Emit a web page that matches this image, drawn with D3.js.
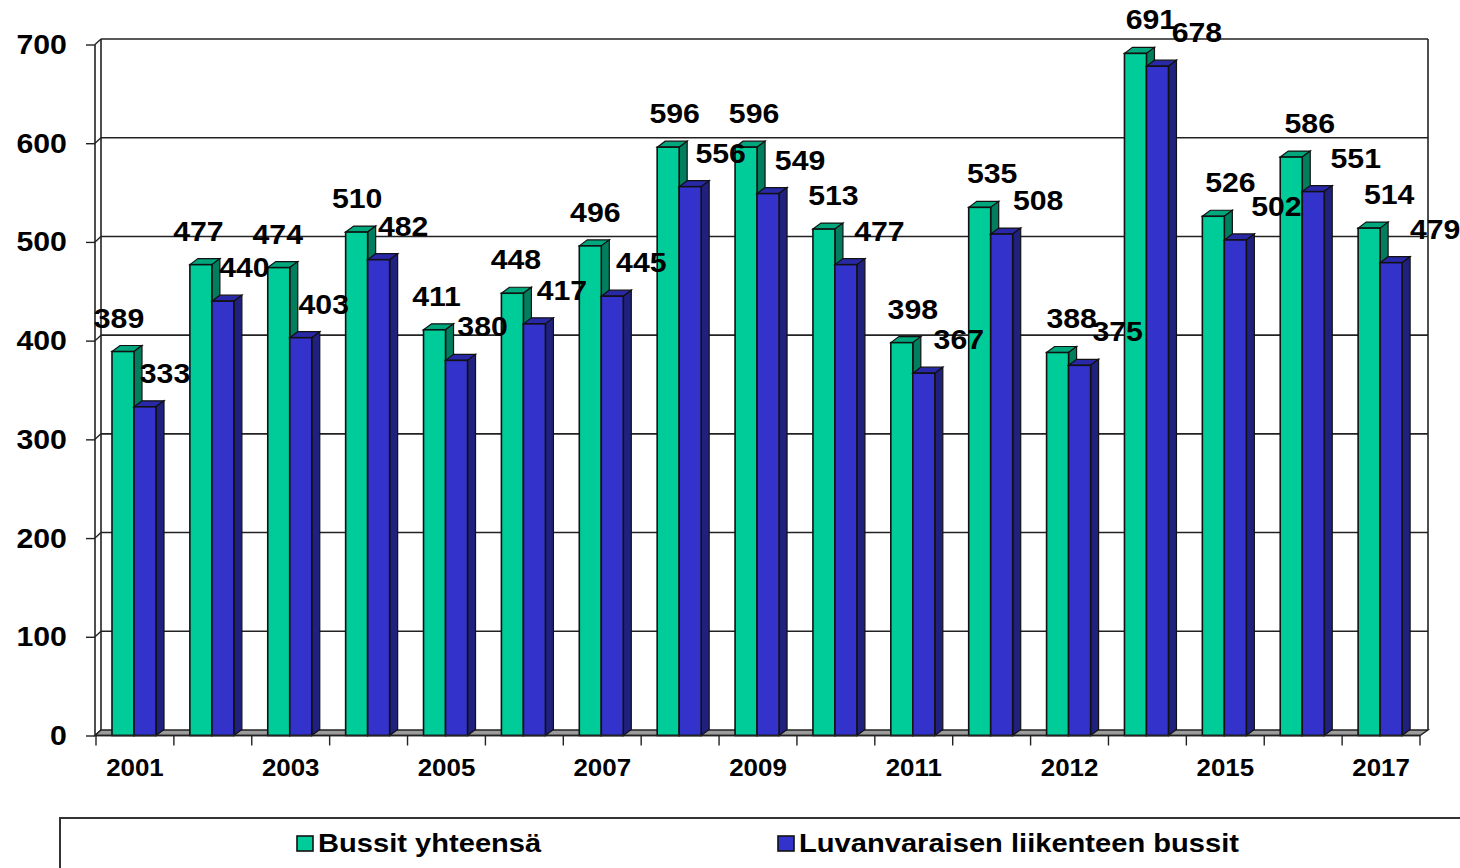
<!DOCTYPE html>
<html>

<head>
    <meta charset="utf-8">
    <style>
        body {
            margin: 0;
            background: #fff;
        }

        svg {
            display: block;
            font-family: "Liberation Sans", Arial, sans-serif;
            font-weight: bold;
        }

        .axis .domain {
            display: none;
        }

        .axis .tick text {
            fill: #000;
        }
    </style>
</head>

<body>
    <svg width="1460" height="868"></svg>

    <script src="https://d3js.org/d3.v7.min.js"></script>

    <script>
        // Data
        let years = ["2001", "2002", "2003", "2004", "2005", "2006", "2007", "2008", "2009",
            "2010", "2011", "2012a", "2012", "2014", "2015", "2016", "2017"]
        // only every other year is printed under the axis
        let tickLabels = ["2001", "", "2003", "", "2005", "", "2007", "", "2009",
            "", "2011", "", "2012", "", "2015", "", "2017"]
        let bussitYhteensa = [389, 477, 474, 510, 411, 448, 496, 596, 596, 513, 398, 535, 388, 691, 526, 586, 514]
        let luvanvaraiset = [333, 440, 403, 482, 380, 417, 445, 556, 549, 477, 367, 508, 375, 678, 502, 551, 479]
        let yTicks = [0, 100, 200, 300, 400, 500, 600, 700]
        let seriesNames = ["Bussit yhteensä", "Luvanvaraisen liikenteen bussit"]

        let colors = [
            { front: "#00CC99", top: "#00A67C", side: "#007E5E" },
            { front: "#3333CC", top: "#2929A8", side: "#20207F" }
        ]

        let svg = d3.select("svg")

        let plotLeft = 96, plotRight = 1420, plotBottom = 735.5, plotTop = 44.5
        let wallDx = 6, wallDy = -5.5   // depth of the back wall
        let barDx = 8, barDy = -6       // depth of each column
        let textStretch = "scale(1.08,1)"

        let x = d3.scaleBand()
            .domain(d3.range(years.length))
            .range([plotLeft, plotRight])
            .padding(0)

        let y = d3.scaleLinear()
            .domain([0, 700])
            .range([plotBottom, plotTop])

        let bw = x.bandwidth()
        let barW = 22
        let groupOffset = 16

        // back wall gridlines
        svg.append("g")
            .selectAll("line")
            .data(yTicks.slice(1))
            .join("line")
            .attr("x1", plotLeft - 1 + wallDx)
            .attr("x2", plotRight + wallDx + 2)
            .attr("y1", d => y(d) + wallDy)
            .attr("y2", d => y(d) + wallDy)
            .attr("stroke", "#222")
            .attr("stroke-width", 1.6)

        // side wall diagonals
        svg.append("g")
            .selectAll("line")
            .data(yTicks)
            .join("line")
            .attr("x1", plotLeft - 1)
            .attr("x2", plotLeft - 1 + wallDx)
            .attr("y1", d => y(d))
            .attr("y2", d => y(d) + wallDy)
            .attr("stroke", "#222")
            .attr("stroke-width", 1.4)

        // wall edges
        svg.append("line")
            .attr("x1", plotLeft - 1).attr("x2", plotLeft - 1)
            .attr("y1", y(700)).attr("y2", y(0))
            .attr("stroke", "#222").attr("stroke-width", 1.6)
        svg.append("line")
            .attr("x1", plotLeft - 1 + wallDx).attr("x2", plotLeft - 1 + wallDx)
            .attr("y1", y(700) + wallDy).attr("y2", y(0) + wallDy)
            .attr("stroke", "#222").attr("stroke-width", 1.6)
        svg.append("line")
            .attr("x1", plotRight + wallDx + 2).attr("x2", plotRight + wallDx + 2)
            .attr("y1", y(700) + wallDy).attr("y2", y(0) + wallDy)
            .attr("stroke", "#222").attr("stroke-width", 1.6)

        // floor
        svg.append("path")
            .attr("d", `M${plotLeft - 1},${y(0)} L${plotRight},${y(0)} L${plotRight + wallDx + 2},${y(0) + wallDy} L${plotLeft - 1 + wallDx},${y(0) + wallDy} Z`)
            .attr("fill", "#9c9c9c")
            .attr("stroke", "#222")
            .attr("stroke-width", 1.4)

        // 3D columns
        let series = [bussitYhteensa, luvanvaraiset]
        let groups = svg.append("g")
            .selectAll("g")
            .data(years.map((yr, i) => i))
            .join("g")

        series.forEach(function (vals, s) {
            let c = colors[s]
            let x0 = i => x(i) + groupOffset + s * barW
            // top face
            groups.append("path")
                .attr("d", i => {
                    let a = x0(i), t = y(vals[i])
                    return `M${a},${t} L${a + barDx},${t + barDy} L${a + barW + barDx},${t + barDy} L${a + barW},${t} Z`
                })
                .attr("fill", c.top)
                .attr("stroke", "#111")
                .attr("stroke-width", 1.2)
            // side face
            groups.append("path")
                .attr("d", i => {
                    let a = x0(i) + barW, t = y(vals[i])
                    return `M${a},${t} L${a + barDx},${t + barDy} L${a + barDx},${y(0) + barDy} L${a},${y(0)} Z`
                })
                .attr("fill", c.side)
                .attr("stroke", "#111")
                .attr("stroke-width", 1.2)
            // front face
            groups.append("rect")
                .attr("x", i => x0(i))
                .attr("y", i => y(vals[i]))
                .attr("width", barW)
                .attr("height", i => y(0) - y(vals[i]))
                .attr("fill", c.front)
                .attr("stroke", "#111")
                .attr("stroke-width", 1.6)
        })

        // front edge of the floor
        svg.append("line")
            .attr("x1", plotLeft - 1).attr("x2", plotRight)
            .attr("y1", y(0)).attr("y2", y(0))
            .attr("stroke", "#222").attr("stroke-width", 1.6)

        // value labels
        let labelLayer = svg.append("g")
        series.forEach(function (vals, s) {
            labelLayer.selectAll(null)
                .data(vals)
                .join("text")
                .attr("transform", (d, i) => {
                    let cx = x(i) + groupOffset + s * barW + barW / 2 + (s == 0 ? -4 : 20) + 1.5 * i
                    return `translate(${cx},${y(d) - 24}) ${textStretch}`
                })
                .attr("text-anchor", "middle")
                .style("font-size", "28px")
                .style("fill", "#000")
                .text(d => d)
        })

        // y axis
        let yAxis = svg.append("g")
            .attr("class", "axis")
            .attr("transform", `translate(${plotLeft - 1},0)`)
            .call(d3.axisLeft(y).tickValues(yTicks).tickSize(9).tickPadding(18))
        yAxis.selectAll(".tick line").attr("stroke", "#222").attr("stroke-width", 1.4)
        yAxis.selectAll(".tick text")
            .style("font-size", "28px")
            .attr("transform", textStretch)
            .attr("x", -26)

        // x axis: labels at band centres, ticks at band edges
        let xAxis = svg.append("g")
            .attr("class", "axis")
            .attr("transform", `translate(0,${y(0)})`)
            .call(d3.axisBottom(x).tickFormat(i => tickLabels[i]).tickSize(0).tickPadding(23))
        xAxis.selectAll(".tick text")
            .style("font-size", "24px")
            .attr("transform", textStretch)
            .attr("x", 0)

        svg.append("g")
            .selectAll("line")
            .data(d3.range(years.length + 1))
            .join("line")
            .attr("x1", i => plotLeft + i * bw)
            .attr("x2", i => plotLeft + i * bw)
            .attr("y1", y(0))
            .attr("y2", y(0) + 10)
            .attr("stroke", "#222")
            .attr("stroke-width", 1.4)

        // legend box
        svg.append("path")
            .attr("d", "M60,868 V818 H1460")
            .attr("fill", "none")
            .attr("stroke", "#333")
            .attr("stroke-width", 2)

        let legendX = [297, 778]
        let legend = svg.append("g")
            .selectAll("g")
            .data(seriesNames)
            .join("g")
            .attr("transform", (d, i) => `translate(${legendX[i]},836)`)

        legend.append("rect")
            .attr("width", 16)
            .attr("height", 15)
            .attr("fill", (d, i) => colors[i].front)
            .attr("stroke", "#111")
            .attr("stroke-width", 1.6)

        legend.append("text")
            .attr("transform", "translate(21,16) scale(1.12,1)")
            .style("font-size", "26px")
            .style("fill", "#000")
            .text(d => d)
    </script>
</body>

</html>
